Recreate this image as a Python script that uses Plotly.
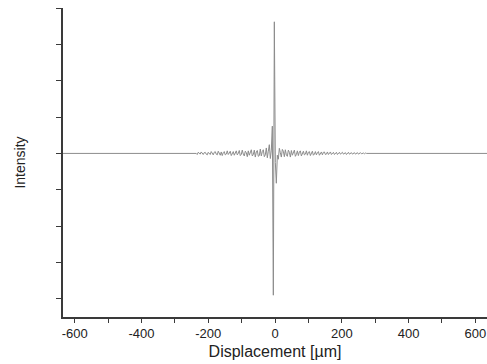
import numpy as np
import plotly.graph_objects as go

# Interferogram: sampled intensity around zero optical path difference
scan_start_um = -239.0     # first recorded sample of the fringe packet
scan_step_um = 3.0         # sampling interval
scan_limits_um = [-635.0, 635.0]  # outer ends of the scan (flat baseline)

intensity = [
    # far left tail
    0.02, 0.00, -0.03, 0.03, 0.01, -0.02, 0.04, -0.01, -0.03, 0.02,
    0.03, -0.02, -0.04, 0.03, 0.01, -0.03, 0.05, -0.01, -0.04, 0.03,
    # left side, growing
    0.05, -0.02, -0.04, 0.06, 0.01, -0.05, 0.04, -0.06, 0.02, 0.05,
    -0.04, -0.02, 0.07, -0.03, 0.01, 0.06, -0.06, -0.02, 0.05, -0.05,
    0.03, 0.07, -0.04, 0.00, 0.08, -0.06, -0.03,
    # approaching centre
    0.09, -0.02, -0.07, 0.06, 0.02, -0.09, 0.07, -0.05, 0.03, 0.10,
    -0.07, -0.03, 0.09, -0.10, 0.04, 0.08, -0.08, -0.06, 0.12, -0.07,
    0.05, 0.10, -0.09, -0.04,
    # inner fringes
    0.15, -0.12, 0.06, 0.24, -0.14, 0.09,
    # central peak
    0.75, -3.90, 3.62, -0.25, -0.82, -0.05, -0.16,
    # right side, decaying
    0.14, 0.02, -0.10, 0.11, 0.06, -0.09, 0.10, -0.04, -0.08, 0.09,
    0.03, -0.10, 0.08, -0.05, 0.02, 0.09, -0.08, -0.03, 0.07,
    -0.06, 0.04, 0.07, -0.07, 0.01, 0.06, -0.04, -0.02, 0.07, -0.05,
    0.03, 0.05, -0.06, 0.00, 0.06, -0.05, -0.02, 0.05, -0.04, 0.02,
    0.05, -0.05, -0.01, 0.04, -0.04, 0.03, 0.04, -0.03, -0.02, 0.04,
    # far right tail
    -0.03, 0.01, 0.04, -0.03, -0.01, 0.03, -0.03, 0.02, 0.03, -0.03,
    0.00, 0.03, -0.02, 0.01, 0.03, -0.02, 0.00, 0.02, -0.03, 0.00,
    0.03, -0.02, 0.01, 0.02, -0.02, 0.00, 0.02, -0.02, 0.01, 0.02,
    -0.02, 0.01, 0.02, -0.01, 0.00, 0.01, -0.01, 0.01, 0.00, 0.00,
]

x_tick_values = [-600, -400, -200, 0, 200, 400, 600]
y_tick_values = [-4, -3, -2, -1, 0, 1, 2, 3, 4]

sample_x = scan_start_um + scan_step_um * np.arange(len(intensity))
x = np.concatenate([[scan_limits_um[0]], sample_x, [scan_limits_um[1]]])
y = np.concatenate([[0.0], intensity, [0.0]])

font_family = "Liberation Sans, Arial, sans-serif"
axis_color = "#3a3a3a"

fig = go.Figure()
fig.add_trace(go.Scatter(
    x=x, y=y, mode="lines",
    line=dict(color="#8c8c8c", width=1),
    hoverinfo="skip",
))

fig.update_layout(
    width=487, height=364,
    margin=dict(l=63, r=0, t=8, b=47),
    paper_bgcolor="white", plot_bgcolor="white",
    showlegend=False,
    font=dict(family=font_family, color="#222222", size=13),
)
fig.update_xaxes(
    range=scan_limits_um,
    tickvals=x_tick_values,
    ticktext=[str(v) for v in x_tick_values],
    ticks="outside", ticklen=4, tickwidth=1, tickcolor=axis_color,
    minor=dict(dtick=100, tick0=0, ticks="outside", ticklen=4,
               tickwidth=1, tickcolor=axis_color),
    showline=True, linecolor=axis_color, linewidth=1.5,
    showgrid=False, zeroline=False,
    tickfont=dict(size=13),
    title=dict(text="Displacement [µm]", font=dict(size=16), standoff=5),
)
fig.update_yaxes(
    range=[-4.5, 4.0],
    tickvals=y_tick_values,
    showticklabels=False,
    ticks="outside", ticklen=5, tickwidth=1, tickcolor=axis_color,
    showline=True, linecolor=axis_color, linewidth=1.5,
    showgrid=False, zeroline=False,
    title=dict(text="Intensity", font=dict(size=14), standoff=27),
)

fig.write_html("out.html")
